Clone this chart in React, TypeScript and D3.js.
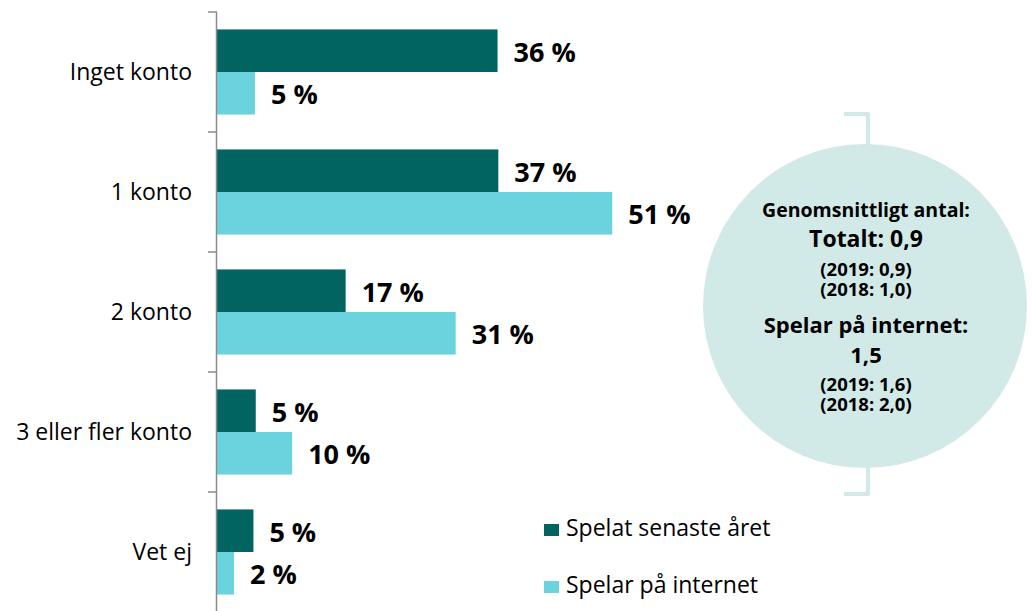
import React from "react";
import * as d3 from "d3";

const width = 1033;
const height = 611;

const categories = ["Inget konto", "1 konto", "2 konto", "3 eller fler konto", "Vet ej"];
const seriesNames = ["Spelat senaste året", "Spelar på internet"];
const seriesColors = ["#016461", "#6bd3de"];

// bar lengths as drawn (percent)
const senasteValues = [36.2, 36.3, 16.6, 5.0, 4.7];
const internetValues = [4.9, 51.0, 30.8, 9.7, 2.2];
// value labels as printed
const senasteLabels = ["36 %", "37 %", "17 %", "5 %", "5 %"];
const internetLabels = ["5 %", "51 %", "31 %", "10 %", "2 %"];

const bubbleLines = [
  { text: "Genomsnittligt antal:", size: 19.5, y: 217 },
  { text: "Totalt: 0,9", size: 23, y: 247 },
  { text: "(2019: 0,9)", size: 18.5, y: 276 },
  { text: "(2018: 1,0)", size: 18.5, y: 296 },
  { text: "Spelar på internet:", size: 22, y: 333 },
  { text: "1,5", size: 22, y: 363 },
  { text: "(2019: 1,6)", size: 18.5, y: 391 },
  { text: "(2018: 2,0)", size: 18.5, y: 411 },
];

const font = "'Open Sans', sans-serif";
const axisX = 217;

const y = d3.scaleBand<string>().domain(categories).range([12, 612]).paddingInner(0).paddingOuter(0);
const ySeries = d3.scaleBand<number>().domain([0, 1]).range([0, y.bandwidth()]).paddingInner(0).paddingOuter(0.41);
const x = d3.scaleLinear().domain([0, 60]).range([axisX, axisX + 465]);

const series = [
  { values: senasteValues, labels: senasteLabels },
  { values: internetValues, labels: internetLabels },
];

export default function App() {
  const bubbleColor = "#d2eae7";
  const cx = 865;
  const cy = 306;
  const r = 162;
  return (
    <svg width={width} height={height} style={{ position: "absolute", left: 0, top: 0, background: "#fff" }}>
      {/* bubble with bracket */}
      <path
        d={`M844,114 H868 V${cy - r + 2}`}
        fill="none"
        stroke={bubbleColor}
        strokeWidth={4}
        strokeLinejoin="round"
      />
      <path
        d={`M868,${cy + r - 2} V494 H844`}
        fill="none"
        stroke={bubbleColor}
        strokeWidth={4}
        strokeLinejoin="round"
      />
      <circle cx={cx} cy={cy} r={r} fill={bubbleColor} />
      {bubbleLines.map((l, i) => (
        <text
          key={i}
          x={866}
          y={l.y}
          textAnchor="middle"
          fontFamily={font}
          fontWeight="bold"
          fontSize={l.size}
          fill="#000"
        >
          {l.text}
        </text>
      ))}

      {/* bars */}
      {categories.map((c, ci) => (
        <g key={c} transform={`translate(0,${y(c)})`}>
          {series.map((s, si) => {
            const v = s.values[ci];
            const by = ySeries(si)!;
            return (
              <g key={si}>
                <rect x={x(0)} y={by} width={x(v) - x(0)} height={ySeries.bandwidth()} fill={seriesColors[si]} />
                <text
                  x={x(v) + 16}
                  y={by + ySeries.bandwidth() / 2 + 11}
                  fontFamily={font}
                  fontWeight="bold"
                  fontSize={27}
                  fill="#000"
                >
                  {s.labels[ci]}
                </text>
              </g>
            );
          })}
          <text
            x={192}
            y={y.bandwidth() / 2 + 8}
            textAnchor="end"
            fontFamily={font}
            fontSize={23}
            fill="#000"
          >
            {c}
          </text>
        </g>
      ))}

      {/* axis */}
      <line x1={axisX - 0.5} x2={axisX - 0.5} y1={12} y2={611} stroke="#8a8a8a" strokeWidth={1.5} />
      {categories.map((c) => (
        <line key={c} x1={208} x2={axisX} y1={y(c)!} y2={y(c)!} stroke="#8a8a8a" strokeWidth={1.5} />
      ))}

      {/* legend */}
      {seriesNames.map((n, i) => (
        <g key={n} transform={`translate(544,${524 + i * 57})`}>
          <rect width={15} height={12} fill={seriesColors[i]} />
          <text x={22} y={12} fontFamily={font} fontSize={23} fill="#000">
            {n}
          </text>
        </g>
      ))}
    </svg>
  );
}
